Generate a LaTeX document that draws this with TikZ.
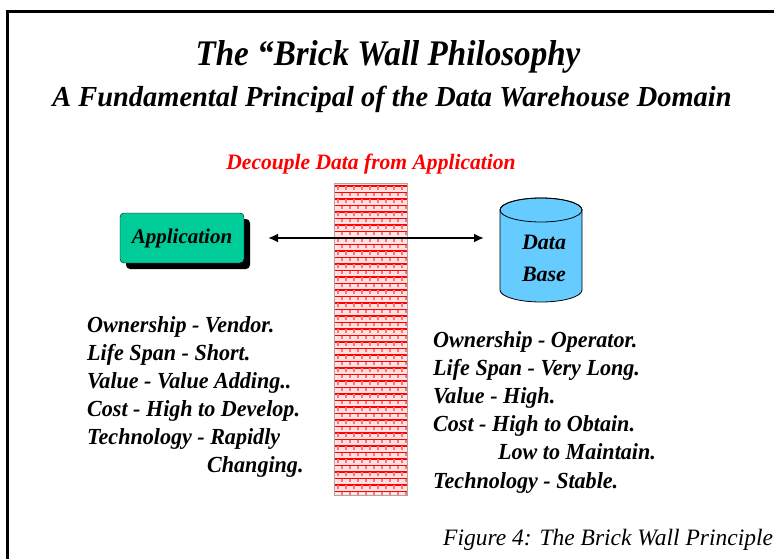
\documentclass[tikz,border=0pt]{standalone}
\usepackage{fontspec}
\setmainfont{Liberation Serif}
\usetikzlibrary{arrows.meta}
\definecolor{appgreen}{RGB}{0,204,153}
\definecolor{dbblue}{RGB}{102,204,255}
\definecolor{brickred}{RGB}{255,0,0}
\definecolor{brickpink}{RGB}{255,225,225}
\tikzset{
  bi/.style={font=\bfseries\itshape, inner sep=0pt},
  listtext/.style={inner sep=0pt, font=\fontsize{23}{28}\selectfont\bfseries\itshape, anchor=base west, xscale=0.96},
}
\begin{document}
\begin{tikzpicture}[x=1pt,y=-1pt]
\useasboundingbox (0,0) rectangle (774,559);
% frame
\draw[line width=3pt] (7,559) -- (7,12) -- (774,12);
% titles
\node[inner sep=0pt, font=\fontsize{36}{40}\selectfont\bfseries\itshape, anchor=base, xscale=0.92] (t1) at (388,66) {The “Brick Wall Philosophy};
\node[inner sep=0pt, font=\fontsize{29}{32}\selectfont\bfseries\itshape, anchor=base, xscale=0.98] (t2) at (392,107) {A Fundamental Principal of the Data Warehouse Domain};
\node[inner sep=0pt, font=\fontsize{22}{24}\selectfont\bfseries\itshape, anchor=base, text=brickred, xscale=0.98] (t3) at (371,170) {Decouple Data from Application};
% wall
\fill[brickpink] (334,183) rectangle (407,495);
\foreach \i in {0,...,47}{
  \draw[brickred, line width=1.4pt] (334,{186+\i*6.5}) -- (407,{186+\i*6.5});
  \foreach \j in {0,...,8}{
    \draw[brickred!55, line width=1.1pt] ({338+\j*8+mod(\i,2)*4},{186+\i*6.5}) -- ++(0,3.5);
  }
}
\draw[gray!70, line width=0.8pt] (334,183) rectangle (407,495);
% application
\fill[black, rounded corners=4pt] (126,219) rectangle (250,269);
\node[draw=black, fill=appgreen, rounded corners=4pt, minimum width=124pt, minimum height=50pt, inner sep=0pt,
  font=\fontsize{21}{24}\selectfont\bfseries\itshape] (app) at (182,238) {Application};
% database cylinder
\filldraw[fill=dbblue, draw=black, line width=0.8pt] (500,210) -- (500,290) arc (180:0:41 and 12) -- (582,210) arc (0:-180:41 and 12) -- cycle;
\draw[black, line width=0.8pt] (541,210) ellipse (41 and 12);
\node[font=\fontsize{22}{32}\selectfont\bfseries\itshape, align=center, inner sep=0pt] (db) at (544,258) {Data\\Base};
% arrow
\coordinate (al) at (268,238);
\coordinate (ar) at (484,238);
\draw[line width=2.2pt, {Latex[length=10pt,width=9pt]}-{Latex[length=10pt,width=9pt]}] (al) -- (ar);
% left list
\node[listtext] (l1) at (87,332) {Ownership - Vendor.};
\node[listtext] (l2) at (87,360) {Life Span - Short.};
\node[listtext] (l3) at (87,388) {Value - Value Adding..};
\node[listtext] (l4) at (87,416) {Cost - High to Develop.};
\node[listtext] (l5) at (87,444) {Technology - Rapidly};
\node[listtext] (l6) at (207,472) {Changing.};
% right list
\node[listtext] (r1) at (433,347) {Ownership - Operator.};
\node[listtext] (r2) at (433,375) {Life Span - Very Long.};
\node[listtext] (r3) at (433,403) {Value - High.};
\node[listtext] (r4) at (433,431) {Cost - High to Obtain.};
\node[listtext] (r5) at (498,459) {Low to Maintain.};
\node[listtext] (r6) at (433,488) {Technology - Stable.};
% caption
\node[font=\fontsize{23.5}{26}\selectfont\itshape, anchor=base west, inner sep=0pt] (cap) at (443,545) {Figure 4: The Brick Wall Principle};
\end{tikzpicture}
\end{document}
